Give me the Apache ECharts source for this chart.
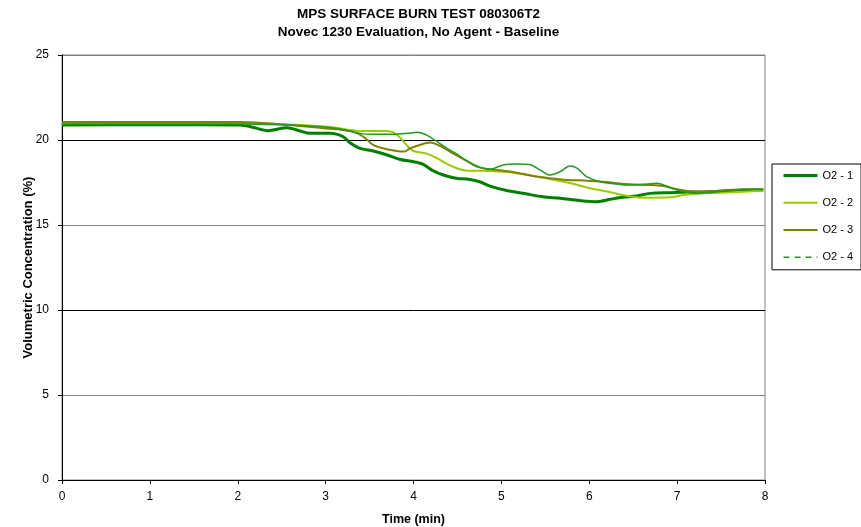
<!DOCTYPE html>
<html>
<head>
<meta charset="utf-8">
<script src="https://cdn.jsdelivr.net/npm/echarts@6/dist/echarts.min.js"></script>
<style>
  html, body { margin: 0; padding: 0; background: #fff; }
  #chart { width: 861px; height: 527px; }
</style>
</head>
<body>
<div id="chart"></div>
<script>
// O2 sensor readings: time (min) and volumetric concentration (%)
var o2_1_t = [0, 1.0, 2.03, 2.17, 2.34, 2.56, 2.71, 2.82, 3.05, 3.20, 3.28, 3.39, 3.54, 3.70, 3.85, 4.00, 4.11, 4.22, 4.34, 4.50, 4.61, 4.76, 4.87, 5.06, 5.29, 5.47, 5.67, 5.89, 6.09, 6.24, 6.38, 6.54, 6.69, 6.92, 7.15, 7.37, 7.60, 7.98];
var o2_1_v = [20.88, 20.9, 20.88, 20.75, 20.55, 20.72, 20.53, 20.39, 20.39, 20.19, 19.82, 19.51, 19.35, 19.12, 18.85, 18.72, 18.57, 18.2, 17.94, 17.73, 17.7, 17.53, 17.29, 17.03, 16.82, 16.66, 16.57, 16.44, 16.37, 16.51, 16.63, 16.71, 16.86, 16.9, 16.94, 16.96, 17.02, 17.06];

var o2_2_t = [0, 1.0, 2.03, 2.59, 3.05, 3.39, 3.65, 3.77, 3.85, 3.93, 4.00, 4.15, 4.27, 4.38, 4.50, 4.61, 4.84, 5.06, 5.29, 5.55, 5.78, 6.01, 6.24, 6.38, 6.54, 6.69, 6.92, 7.07, 7.23, 7.49, 7.75, 7.98];
var o2_2_v = [21.0, 21.0, 21.0, 20.91, 20.76, 20.53, 20.53, 20.45, 20.12, 19.65, 19.35, 19.2, 18.92, 18.59, 18.32, 18.19, 18.18, 18.12, 17.94, 17.71, 17.47, 17.16, 16.93, 16.76, 16.63, 16.61, 16.63, 16.76, 16.86, 16.9, 16.96, 17.02];

var o2_3_t = [0, 1.0, 2.03, 2.59, 2.97, 3.16, 3.31, 3.43, 3.54, 3.65, 3.81, 3.90, 3.96, 4.07, 4.19, 4.30, 4.45, 4.61, 4.72, 4.84, 4.98, 5.18, 5.36, 5.55, 5.75, 5.97, 6.16, 6.32, 6.46, 6.69, 6.84, 7.00, 7.23, 7.49, 7.75, 7.98];
var o2_3_v = [21.06, 21.06, 21.06, 20.88, 20.69, 20.62, 20.5, 20.19, 19.71, 19.51, 19.35, 19.32, 19.51, 19.71, 19.85, 19.65, 19.21, 18.76, 18.43, 18.29, 18.22, 18.08, 17.88, 17.75, 17.65, 17.61, 17.55, 17.45, 17.39, 17.35, 17.29, 17.1, 16.96, 17.02, 17.1, 17.09];

var o2_4_t = [0, 1.0, 2.03, 2.71, 3.05, 3.16, 3.39, 3.54, 3.77, 3.93, 4.04, 4.15, 4.27, 4.38, 4.50, 4.61, 4.76, 4.87, 5.02, 5.18, 5.33, 5.44, 5.55, 5.67, 5.78, 5.86, 5.97, 6.12, 6.32, 6.46, 6.61, 6.77, 6.88, 7.03, 7.23, 7.37, 7.57, 7.83, 7.98];
var o2_4_v = [20.94, 20.94, 20.94, 20.85, 20.74, 20.65, 20.39, 20.34, 20.34, 20.39, 20.45, 20.29, 19.9, 19.51, 19.15, 18.76, 18.39, 18.28, 18.53, 18.59, 18.55, 18.24, 17.94, 18.14, 18.47, 18.34, 17.84, 17.55, 17.41, 17.35, 17.39, 17.45, 17.29, 17.02, 16.86, 16.9, 17.0, 17.1, 17.1];

var seriesNames = ['O2 - 1', 'O2 - 2', 'O2 - 3', 'O2 - 4'];
var seriesColors = ['#008000', '#99cc00', '#808000', '#1f9a1f'];
var seriesWidths = [3, 2, 2, 1.5];
var xTicks = [0, 1, 2, 3, 4, 5, 6, 7, 8];
var yTicks = [0, 5, 10, 15, 20, 25];

function pairs(t, v) {
  return t.map(function (x, i) { return [x, v[i]]; });
}

var font = 'Liberation Sans, Arial, sans-serif';
var chart = echarts.init(document.getElementById('chart'), null, { renderer: 'canvas' });

var allData = [pairs(o2_1_t, o2_1_v), pairs(o2_2_t, o2_2_v), pairs(o2_3_t, o2_3_v), pairs(o2_4_t, o2_4_v)];

chart.setOption({
  backgroundColor: '#ffffff',
  animation: false,
  title: {
    text: 'MPS SURFACE BURN TEST 080306T2\nNovec 1230 Evaluation, No Agent - Baseline',
    left: 413.5,
    textAlign: 'center',
    top: 0,
    textStyle: { fontFamily: font, fontSize: 13.5, fontWeight: 'bold', color: '#000', lineHeight: 18 }
  },
  legend: {
    orient: 'vertical',
    left: 772,
    top: 164,
    padding: [6, 8, 7, 10],
    itemWidth: 34,
    itemHeight: 14,
    itemGap: 16,
    borderColor: '#000',
    borderWidth: 1,
    itemStyle: { opacity: 0 },
    textStyle: { fontFamily: font, fontSize: 11, color: '#000' },
    data: seriesNames.map(function (n, i) {
      return { name: n, lineStyle: { width: seriesWidths[i], type: i === 3 ? [6, 5] : 'solid' } };
    })
  },
  grid: {
    left: 62, right: 96, top: 55, bottom: 47,
    containLabel: false, outerBoundsMode: 'none',
    show: true, borderColor: '#808080', borderWidth: 1
  },
  xAxis: {
    type: 'value',
    min: xTicks[0],
    max: xTicks[xTicks.length - 1],
    interval: 1,
    name: 'Time (min)',
    nameLocation: 'middle',
    nameGap: 33,
    nameMoveOverlap: false,
    nameTextStyle: { fontFamily: font, fontSize: 12.5, fontWeight: 'bold', color: '#000' },
    axisLine: { lineStyle: { color: '#000', width: 1 } },
    axisTick: { inside: false, length: 4, lineStyle: { color: '#000' } },
    axisLabel: { fontFamily: font, fontSize: 12, color: '#000', margin: 11 },
    splitLine: { show: false }
  },
  yAxis: {
    type: 'value',
    min: yTicks[0],
    max: yTicks[yTicks.length - 1],
    interval: 5,
    name: 'Volumetric Concentration (%)',
    nameLocation: 'middle',
    nameGap: 27,
    nameMoveOverlap: false,
    nameRotate: 90,
    nameTextStyle: { fontFamily: font, fontSize: 13, fontWeight: 'bold', color: '#000' },
    axisLine: { show: true, lineStyle: { color: '#000', width: 1 } },
    axisTick: { show: true, inside: false, length: 4, lineStyle: { color: '#000' } },
    axisLabel: { fontFamily: font, fontSize: 12, color: '#000', margin: 13 },
    splitLine: { show: true, lineStyle: { color: ['#000', '#808080', '#000', '#808080', '#000', '#808080'], width: 1 } }
  },
  series: seriesNames.map(function (n, i) {
    return {
      name: n, type: 'line', data: allData[i], symbol: 'none', smooth: 0.3,
      lineStyle: { color: seriesColors[i], width: seriesWidths[i] },
      itemStyle: { color: seriesColors[i] }
    };
  })
});
</script>
</body>
</html>
